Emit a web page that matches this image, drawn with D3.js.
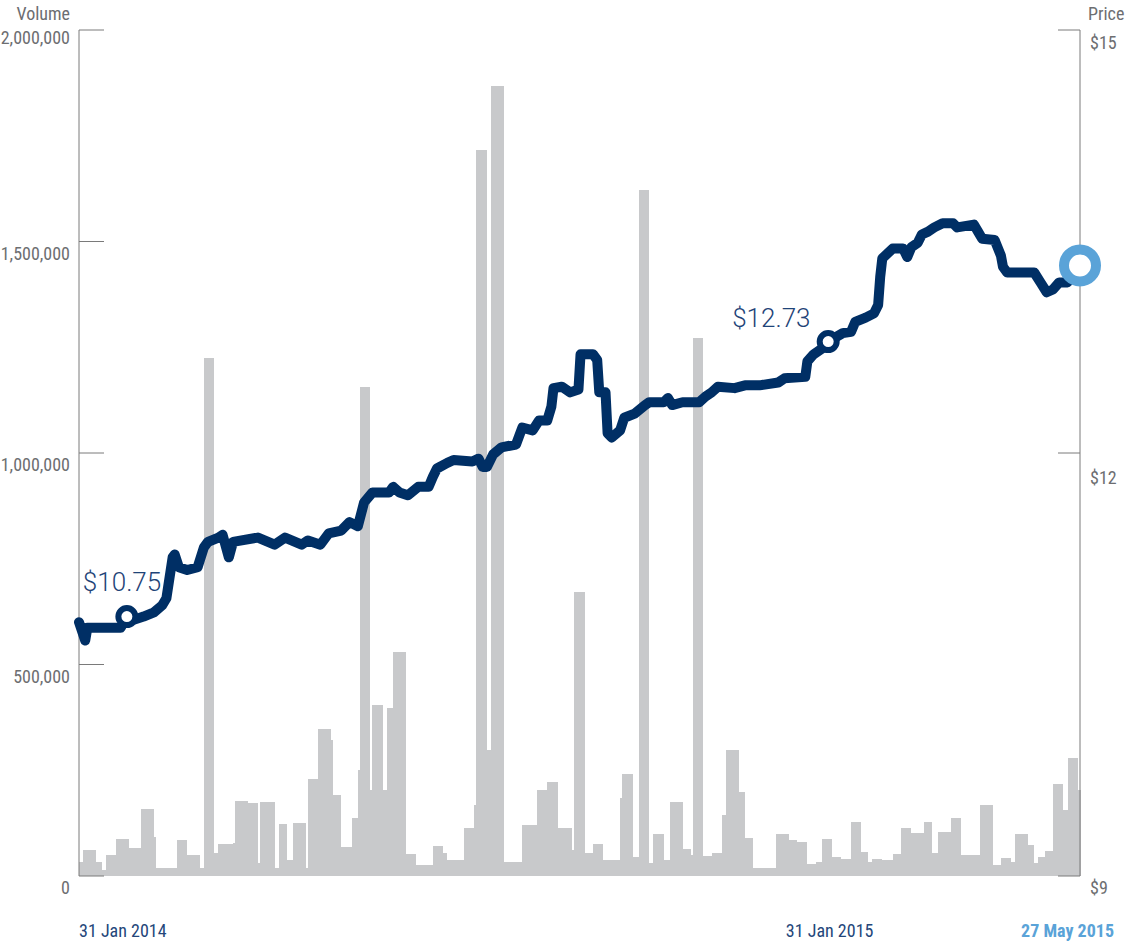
<!DOCTYPE html>
<html>
<head>
<meta charset="utf-8">
<script src="https://cdn.jsdelivr.net/npm/d3@7/dist/d3.min.js"></script>
<style>
  html, body { margin: 0; padding: 0; background: #ffffff; }
  svg { display: block; }
  .ax { font-family: 'Liberation Sans Narrow', 'Roboto Condensed', Roboto, sans-serif; fill: #6d6e71; font-size: 18px; }
</style>
</head>
<body>
<svg id="chart" width="1128" height="942"></svg>
<script>
// ---------------- data ----------------
const volDates = [
  "2014-01-31","2014-02-02","2014-02-08","2014-02-11","2014-02-13","2014-02-18","2014-02-24","2014-03-02",
  "2014-03-08","2014-03-09","2014-03-19","2014-03-24","2014-03-30","2014-04-01","2014-04-06","2014-04-08",
  "2014-04-15","2014-04-16","2014-04-22","2014-04-27","2014-04-28","2014-05-05","2014-05-07","2014-05-11",
  "2014-05-14","2014-05-20","2014-05-21","2014-05-26","2014-06-01","2014-06-02","2014-06-06","2014-06-11",
  "2014-06-14","2014-06-15","2014-06-20","2014-06-21","2014-06-26","2014-06-28","2014-07-01","2014-07-07",
  "2014-07-12","2014-07-20","2014-07-25","2014-07-27","2014-08-04","2014-08-09","2014-08-10","2014-08-15",
  "2014-08-17","2014-08-23","2014-09-01","2014-09-08","2014-09-13","2014-09-18","2014-09-25","2014-09-26",
  "2014-10-01","2014-10-05","2014-10-10","2014-10-18","2014-10-19","2014-10-24","2014-10-27","2014-11-01",
  "2014-11-03","2014-11-08","2014-11-11","2014-11-17","2014-11-21","2014-11-22","2014-11-27","2014-12-01",
  "2014-12-06","2014-12-08","2014-12-14","2014-12-17","2014-12-21","2015-01-01","2015-01-07","2015-01-11",
  "2015-01-16","2015-01-20","2015-01-23","2015-01-28","2015-02-01","2015-02-06","2015-02-11","2015-02-14",
  "2015-02-16","2015-02-21","2015-02-26","2015-03-02","2015-03-07","2015-03-13","2015-03-17","2015-03-20",
  "2015-03-26","2015-03-31","2015-04-09","2015-04-15","2015-04-19","2015-04-24","2015-04-26","2015-05-02",
  "2015-05-05","2015-05-07","2015-05-10","2015-05-14","2015-05-19","2015-05-21","2015-05-26"
];
const volValues = [
  33000,61000,33000,14000,50000,87000,66000,158000,
  92000,19000,85000,50000,19000,1224000,54000,76000,
  78000,177000,173000,31000,175000,19000,123000,38000,
  125000,19000,229000,348000,321000,191000,69000,137000,
  251000,1156000,203000,404000,203000,397000,530000,52000,
  26000,71000,54000,38000,113000,168000,1716000,298000,
  1868000,32000,120000,203000,222000,113000,61000,671000,
  54000,76000,38000,184000,241000,45000,1622000,31000,
  99000,38000,175000,64000,50000,1272000,47000,54000,
  144000,298000,199000,90000,19000,99000,85000,80000,
  28000,33000,87000,45000,40000,128000,57000,33000,
  40000,38000,52000,113000,102000,128000,54000,104000,
  137000,50000,168000,26000,43000,33000,99000,73000,
  31000,45000,59000,217000,156000,279000,203000
];

const priceDates = [
  "2014-01-31","2014-02-03","2014-02-04","2014-02-20","2014-02-23","2014-02-27","2014-03-03","2014-03-08",
  "2014-03-12","2014-03-14","2014-03-17","2014-03-18","2014-03-20","2014-03-24","2014-03-29","2014-04-01",
  "2014-04-03","2014-04-08","2014-04-10","2014-04-13","2014-04-15","2014-04-27","2014-05-05","2014-05-10",
  "2014-05-18","2014-05-21","2014-05-27","2014-05-31","2014-06-06","2014-06-10","2014-06-14","2014-06-17",
  "2014-06-21","2014-06-29","2014-07-01","2014-07-04","2014-07-08","2014-07-13","2014-07-18","2014-07-20",
  "2014-07-22","2014-07-27","2014-07-30","2014-08-08","2014-08-11","2014-08-13","2014-08-15","2014-08-18",
  "2014-08-22","2014-08-29","2014-09-01","2014-09-06","2014-09-09","2014-09-13","2014-09-15","2014-09-16",
  "2014-09-20","2014-09-24","2014-09-28","2014-09-29","2014-10-05","2014-10-07","2014-10-08","2014-10-11",
  "2014-10-12","2014-10-14","2014-10-18","2014-10-20","2014-10-25","2014-10-30","2014-11-01","2014-11-08",
  "2014-11-10","2014-11-12","2014-11-17","2014-11-25","2014-11-28","2014-12-01","2014-12-04","2014-12-12",
  "2014-12-17","2014-12-24","2015-01-02","2015-01-05","2015-01-15","2015-01-16","2015-01-19","2015-01-23",
  "2015-01-26","2015-02-02","2015-02-06","2015-02-08","2015-02-13","2015-02-17","2015-02-19","2015-02-20",
  "2015-02-21","2015-02-26","2015-03-03","2015-03-05","2015-03-07","2015-03-10","2015-03-12","2015-03-15",
  "2015-03-18","2015-03-22","2015-03-27","2015-03-29","2015-04-06","2015-04-08","2015-04-10","2015-04-16",
  "2015-04-19","2015-04-20","2015-04-22","2015-05-05","2015-05-08","2015-05-11","2015-05-14","2015-05-17",
  "2015-05-21","2015-05-27"
];
const priceValues = [
  10.80,10.67,10.76,10.76,10.84,10.82,10.84,10.87,
  10.92,10.97,11.26,11.28,11.19,11.17,11.19,11.33,
  11.37,11.40,11.42,11.26,11.37,11.40,11.35,11.40,
  11.35,11.38,11.35,11.43,11.45,11.51,11.48,11.65,
  11.72,11.72,11.76,11.72,11.70,11.76,11.76,11.83,
  11.89,11.93,11.95,11.94,11.96,11.90,11.90,11.99,
  12.04,12.06,12.18,12.16,12.23,12.23,12.33,12.46,
  12.47,12.43,12.45,12.70,12.70,12.66,12.43,12.43,
  12.14,12.11,12.16,12.25,12.28,12.34,12.36,12.36,
  12.39,12.34,12.36,12.36,12.40,12.43,12.47,12.46,
  12.48,12.48,12.50,12.53,12.54,12.65,12.70,12.74,
  12.79,12.85,12.86,12.93,12.96,12.99,13.05,13.25,
  13.38,13.45,13.45,13.39,13.46,13.49,13.55,13.57,
  13.60,13.63,13.63,13.60,13.62,13.57,13.52,13.51,
  13.40,13.32,13.28,13.28,13.21,13.14,13.16,13.21,
  13.21,13.33
];

const volTicks = [0, 500000, 1000000, 1500000, 2000000];
const priceTicks = [9, 12, 15];
const dateTicks = ["2014-01-31", "2015-01-31", "2015-05-27"];
const dateTickLabels = ["31 Jan 2014", "31 Jan 2015", "27 May 2015"];
const markerDates = ["2014-02-23", "2015-01-26"];
const markerLabels = ["$10.75", "$12.73"];

// ---------------- chart ----------------
(function () {
const parse = d3.utcParse("%Y-%m-%d");
const svg = d3.select("#chart");

const pL = 79, pR = 1080, pT = 30, pB = 876;
const x = d3.scaleUtc().domain([parse(dateTicks[0]), parse(dateTicks[2])]).range([pL, pR]);
const yV = d3.scaleLinear().domain([0, 2000000]).range([pB, pT]);
const yP = d3.scaleLinear().domain([9, 15]).range([pB, pT]);

const vol = volDates.map((d, i) => ({ date: parse(d), v: volValues[i] }));
const price = priceDates.map((d, i) => ({ date: parse(d), p: priceValues[i] }));

// volume bars
svg.append("g").selectAll("rect").data(vol).join("rect")
  .attr("x", d => x(d.date))
  .attr("width", (d, i) => {
    const next = i < vol.length - 1 ? x(vol[i + 1].date) : x.range()[1] + 1;
    return Math.max(0, next - x(d.date));
  })
  .attr("y", d => yV(d.v))
  .attr("height", d => yV(0) - yV(d.v))
  .attr("fill", "#c8c9cb")
  .attr("shape-rendering", "crispEdges");

// left axis
const fmt = d3.format(",");
const axL = svg.append("g");
axL.append("line").attr("x1", pL).attr("x2", pL).attr("y1", yV(2000000)).attr("y2", yV(0))
  .attr("stroke", "#7a7a7a").attr("stroke-width", 1);
axL.selectAll("line.t").data(volTicks).join("line").attr("class", "t")
  .attr("x1", pL).attr("x2", pL + 25).attr("y1", d => yV(d)).attr("y2", d => yV(d))
  .attr("stroke", "#7a7a7a").attr("stroke-width", 1);
axL.selectAll("text").data(volTicks).join("text").attr("class", "ax")
  .attr("x", 70).attr("y", d => yV(d) + (d === 2000000 ? 14 : 18))
  .attr("text-anchor", "end").text(d => fmt(d));
svg.append("text").attr("class", "ax").attr("x", 70).attr("y", 20).attr("text-anchor", "end").text("Volume");

// right axis
const axR = svg.append("g");
axR.append("line").attr("x1", pR).attr("x2", pR).attr("y1", yP(15)).attr("y2", yP(9))
  .attr("stroke", "#7a7a7a").attr("stroke-width", 1);
axR.selectAll("line.t").data(priceTicks).join("line").attr("class", "t")
  .attr("x1", pR - 22).attr("x2", pR).attr("y1", d => yP(d)).attr("y2", d => yP(d))
  .attr("stroke", "#7a7a7a").attr("stroke-width", 1);
const rOff = { 15: 19, 12: 31, 9: 18 };
axR.selectAll("text").data(priceTicks).join("text").attr("class", "ax")
  .attr("x", 1090).attr("y", d => yP(d) + rOff[d])
  .attr("text-anchor", "start").text(d => "$" + d);
svg.append("text").attr("class", "ax").attr("x", 1088).attr("y", 20).attr("text-anchor", "start").text("Price");

// price line
const line = d3.line().x(d => x(d.date)).y(d => yP(d.p)).curve(d3.curveLinear);
svg.append("path").datum(price)
  .attr("d", line)
  .attr("fill", "none")
  .attr("stroke", "#002f65")
  .attr("stroke-width", 10)
  .attr("stroke-linejoin", "round")
  .attr("stroke-linecap", "round");

// markers
const byDate = new Map(price.map(d => [+d.date, d]));
const mk = markerDates.map((d, i) => ({ pt: byDate.get(+parse(d)), label: markerLabels[i] }));
svg.selectAll("circle.mk").data(mk).join("circle").attr("class", "mk")
  .attr("cx", d => x(d.pt.date)).attr("cy", d => yP(d.pt.p)).attr("r", 8.5)
  .attr("fill", "#ffffff").attr("stroke", "#002f65").attr("stroke-width", 6);
const labelOff = [[-44, -26], [-96, -15]];
svg.selectAll("text.mk").data(mk).join("text").attr("class", "mk")
  .attr("x", (d, i) => x(d.pt.date) + labelOff[i][0])
  .attr("y", (d, i) => yP(d.pt.p) + labelOff[i][1])
  .attr("font-family", "Roboto, 'Liberation Sans', sans-serif")
  .attr("font-weight", 300)
  .attr("font-size", 26).attr("fill", "#1f4478")
  .text(d => d.label);

// last point marker
const last = price[price.length - 1];
svg.append("circle").attr("cx", x(last.date)).attr("cy", yP(last.p)).attr("r", 16)
  .attr("fill", "#ffffff").attr("stroke", "#5aa3d8").attr("stroke-width", 10);

// date labels
const dStyle = [
  { anchor: "start", dx: 0, color: "#24467a", weight: "normal" },
  { anchor: "middle", dx: -9, color: "#24467a", weight: "normal" },
  { anchor: "end", dx: 34, color: "#5aa3d8", weight: "bold" }
];
svg.selectAll("text.dt").data(dateTicks).join("text").attr("class", "ax dt")
  .attr("x", (d, i) => x(parse(d)) + dStyle[i].dx)
  .attr("y", 937)
  .attr("text-anchor", (d, i) => dStyle[i].anchor)
  .style("fill", (d, i) => dStyle[i].color)
  .attr("font-weight", (d, i) => dStyle[i].weight)
  .text((d, i) => dateTickLabels[i]);
})();
</script>
</body>
</html>
